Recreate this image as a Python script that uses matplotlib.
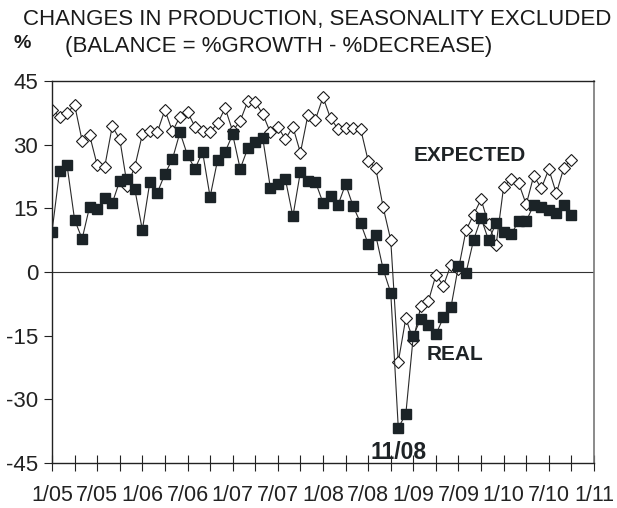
import numpy as np
import matplotlib
matplotlib.use("Agg")
import matplotlib.pyplot as plt

plt.rcParams['font.family'] = ['Liberation Sans', 'DejaVu Sans']
plt.rcParams['axes.unicode_minus'] = False

# monthly balances, Jan 2005 .. Oct 2010
real = [9.5, 23.7, 25.1, 12.3, 7.8, 15.4, 14.8, 17.4, 16.2, 21.5, 21.9, 19.5,
        9.9, 21.2, 18.7, 23.1, 26.6, 32.9, 27.5, 24.3, 28.3, 17.7, 26.4, 28.3,
        32.4, 24.3, 29.1, 30.7, 31.5, 19.9, 20.7, 21.9, 13.1, 23.6, 21.5, 21.2,
        16.3, 17.9, 15.8, 20.7, 15.5, 11.5, 6.6, 8.7, 0.6, -4.9, -36.7, -33.5,
        -15.0, -11.0, -12.6, -14.7, -10.7, -8.3, 1.5, -0.2, 7.5, 12.7, 7.5, 11.5,
        9.5, 8.9, 12.0, 12.0, 15.8, 15.4, 14.7, 13.9, 15.8, 13.5]
expected = [38.2, 36.6, 37.4, 39.4, 30.9, 32.2, 25.2, 24.8, 34.3, 31.3, 20.3, 24.8,
            32.4, 33.3, 33.0, 38.2, 33.1, 36.6, 37.7, 34.2, 33.3, 33.0, 35.0, 38.6,
            33.2, 35.6, 40.2, 40.0, 37.2, 32.9, 34.2, 31.3, 34.2, 28.1, 37.0, 35.9,
            41.2, 36.2, 33.7, 33.9, 34.0, 33.7, 26.2, 24.5, 15.2, 7.5, -21.2, -10.9,
            -16.1, -8.0, -6.9, -0.7, -3.2, 1.7, 0.7, 9.8, 13.5, 17.1, 11.2, 6.4,
            20.1, 21.9, 20.9, 15.9, 22.7, 19.7, 24.2, 18.5, 24.6, 26.5]
tick_labels = ['1/05', '7/05', '1/06', '7/06', '1/07', '7/07', '1/08',
               '7/08', '1/09', '7/09', '1/10', '7/10', '1/11']
y_ticks = [-45, -30, -15, 0, 15, 30, 45]

months = np.arange(len(real))

fig = plt.figure(figsize=(6.17, 5.08), dpi=100)
ax = fig.add_axes([0.0843, 0.0886, 0.8784, 0.752])

line_col = '#2a2a2a'
ax.axhline(0, color='#333333', lw=0.8, zorder=1)
ax.plot(months, expected, color=line_col, lw=0.8, marker='D', markersize=6,
        markerfacecolor='white', markeredgecolor='#1a1a1a', markeredgewidth=0.8, zorder=2)
ax.plot(months, real, color=line_col, lw=0.8, marker='s', markersize=6.5,
        markerfacecolor='#1b2327', markeredgecolor='#1b2327', zorder=3)

ax.set_xlim(0, 72)
ax.set_ylim(-45, 45)
ax.set_yticks(y_ticks)
ax.set_yticklabels([str(v) for v in y_ticks], fontsize=16)
ax.set_xticks(np.arange(0, 73, 6))
ax.set_xticklabels(tick_labels, fontsize=15.5)
ax.set_xticks(np.arange(0, 73, 3), minor=True)
ax.tick_params(axis='y', direction='out', length=6, width=0.8, pad=4, colors='#222222')
ax.tick_params(axis='x', which='both', direction='inout', length=12, width=0.8, pad=10, colors='#222222')

for side in ['left', 'bottom', 'top']:
    ax.spines[side].set_color('#222222')
    ax.spines[side].set_linewidth(1.0)
ax.spines['right'].set_color('#777777')
ax.spines['right'].set_linewidth(1.2)

ax.text(55.5, 27.5, 'EXPECTED', fontsize=15, fontweight='bold', color='#1e2326',
        ha='center', va='center')
ax.text(53.5, -19.5, 'REAL', fontsize=15, fontweight='bold', color='#1e2326',
        ha='center', va='center')
ax.text(46, -42.5, '11/08', fontsize=16.5, fontweight='bold', color='#1e2326',
        ha='center', va='center')

fig.text(0.514, 0.961, 'CHANGES IN PRODUCTION, SEASONALITY EXCLUDED', fontsize=16,
         ha='center', va='center', color='#1a1a1a')
fig.text(0.452, 0.908, '(BALANCE = %GROWTH - %DECREASE)', fontsize=16,
         ha='center', va='center', color='#1a1a1a')
fig.text(0.036, 0.914, '%', fontsize=14, fontweight='bold', ha='center', va='center',
         color='#1a1a1a')

fig.savefig('out.png', dpi=100)
